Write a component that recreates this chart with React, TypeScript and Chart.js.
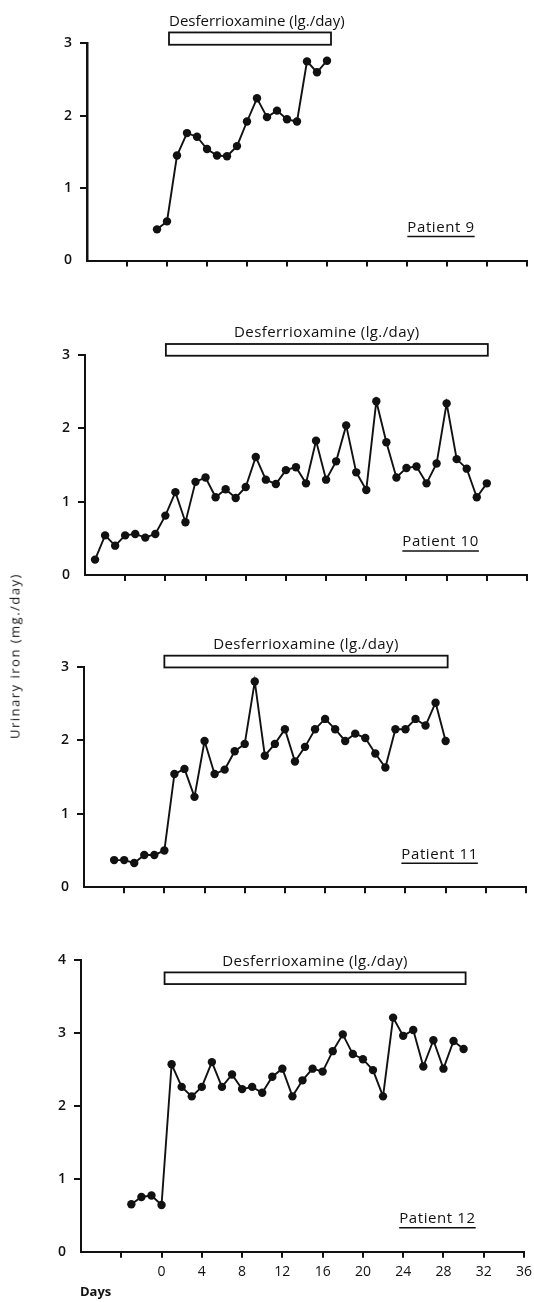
import React, { useEffect, useRef } from "react";
import { Chart, registerables } from "chart.js";

Chart.register(...registerables);

const FONT = '"Open Sans", "DejaVu Sans", sans-serif';

// ---- data (days relative to start of desferrioxamine, urinary iron mg/day) ----
const days9 = [-1, 0, 1, 2, 3, 4, 5, 6, 7, 8, 9, 10, 11, 12, 13, 14, 15, 16];
const iron9 = [0.43, 0.54, 1.45, 1.76, 1.71, 1.54, 1.45, 1.44, 1.58, 1.92, 2.24, 1.98, 2.07, 1.95, 1.92, 2.75, 2.6, 2.76];

const days10 = [-7, -6, -5, -4, -3, -2, -1, 0, 1, 2, 3, 4, 5, 6, 7, 8, 9, 10, 11, 12, 13, 14, 15, 16, 17, 18, 19, 20, 21, 22, 23, 24, 25, 26, 27, 28, 29, 30, 31, 32];
const iron10 = [0.21, 0.54, 0.4, 0.54, 0.56, 0.51, 0.56, 0.81, 1.13, 0.72, 1.27, 1.33, 1.06, 1.17, 1.05, 1.2, 1.61, 1.3, 1.24, 1.43, 1.47, 1.25, 1.83, 1.3, 1.55, 2.04, 1.4, 1.16, 2.37, 1.81, 1.33, 1.46, 1.48, 1.25, 1.52, 2.34, 1.58, 1.45, 1.06, 1.25];

const days11 = [-5, -4, -3, -2, -1, 0, 1, 2, 3, 4, 5, 6, 7, 8, 9, 10, 11, 12, 13, 14, 15, 16, 17, 18, 19, 20, 21, 22, 23, 24, 25, 26, 27, 28];
const iron11 = [0.37, 0.37, 0.33, 0.44, 0.44, 0.5, 1.54, 1.61, 1.23, 1.99, 1.54, 1.6, 1.85, 1.95, 2.8, 1.79, 1.95, 2.15, 1.71, 1.91, 2.15, 2.29, 2.15, 1.99, 2.09, 2.03, 1.82, 1.63, 2.15, 2.15, 2.29, 2.2, 2.51, 1.99];

const days12 = [-3, -2, -1, 0, 1, 2, 3, 4, 5, 6, 7, 8, 9, 10, 11, 12, 13, 14, 15, 16, 17, 18, 19, 20, 21, 22, 23, 24, 25, 26, 27, 28, 29, 30];
const iron12 = [0.65, 0.75, 0.77, 0.64, 2.57, 2.26, 2.13, 2.26, 2.6, 2.26, 2.43, 2.23, 2.26, 2.18, 2.4, 2.51, 2.13, 2.35, 2.51, 2.47, 2.75, 2.98, 2.71, 2.64, 2.49, 2.13, 3.21, 2.96, 3.04, 2.54, 2.9, 2.51, 2.89, 2.78];

const allDays = [days9, days10, days11, days12];
const allIron = [iron9, iron10, iron11, iron12];

const patientNames = ["Patient 9", "Patient 10", "Patient 11", "Patient 12"];
const drugLabel = "Desferrioxamine (lg./day)";
const treatStart = [0.2, 0.05, 0, 0.3];
const treatEnd = [16.4, 32.1, 28.2, 30.2];
const treatLow = [2.98, 2.99, 2.99, 3.67];
const treatHigh = [3.15, 3.15, 3.15, 3.83];
const yMaxes = [3, 3, 3, 4];

const xTicks = [-8, -4, 0, 4, 8, 12, 16, 20, 24, 28, 32, 36];
const xTickLabels = ["", "", "0", "4", "8", "12", "16", "20", "24", "28", "32", "36"];
const yTickLabels = ["0", "1", "2", "3", "4"];
const xAxisName = "Days";
const yAxisName = "Urinary iron (mg./day)";

// ---- layout (pixels) ----
const FRAMES = [
  { top: 0, height: 300, left: 87, right: 527, areaTop: 43.3, areaBottom: 260.5, showX: false },
  { top: 300, height: 310, left: 85, right: 527, areaTop: 55, areaBottom: 275, showX: false },
  { top: 610, height: 310, left: 84, right: 526, areaTop: 56.7, areaBottom: 277.3, showX: false },
  { top: 920, height: 382, left: 81, right: 524, areaTop: 40, areaBottom: 331.7, showX: true },
];
const W = 534;
const INK = "#111";

function makeAnnotPlugin(i: number) {
  return {
    id: "annot" + i,
    afterDraw(chart: any) {
      const { ctx, chartArea, scales } = chart;
      const xs = scales.x;
      const ys = scales.y;
      ctx.save();
      // treatment bar
      const x1 = xs.getPixelForValue(treatStart[i]);
      const x2 = xs.getPixelForValue(treatEnd[i]);
      const yT = ys.getPixelForValue(treatHigh[i]);
      const yB = ys.getPixelForValue(treatLow[i]);
      ctx.fillStyle = "#fff";
      ctx.fillRect(x1, yT, x2 - x1, yB - yT);
      ctx.lineWidth = 1.8;
      ctx.strokeStyle = INK;
      ctx.strokeRect(x1, yT, x2 - x1, yB - yT);
      // treatment label
      ctx.fillStyle = INK;
      ctx.font = `500 15px ${FONT}`;
      ctx.textBaseline = "middle";
      (ctx as any).letterSpacing = i === 0 ? "0px" : "0.4px";
      if (i === 0) {
        ctx.textAlign = "left";
        ctx.fillText(drugLabel, x1, yT - 11);
      } else {
        ctx.textAlign = "center";
        ctx.fillText(drugLabel, (x1 + x2) / 2, yT - 11);
      }
      // patient label with underline
      ctx.font = `500 15px ${FONT}`;
      (ctx as any).letterSpacing = "0.6px";
      ctx.textAlign = "center";
      const px = xs.getPixelForValue(27.4);
      const py = chartArea.bottom - 33;
      ctx.fillText(patientNames[i], px, py);
      const w = ctx.measureText(patientNames[i]).width;
      ctx.lineWidth = 1.6;
      ctx.beginPath();
      ctx.moveTo(px - w / 2, py + 9);
      ctx.lineTo(px + w / 2, py + 9);
      ctx.stroke();
      if (i === 3) {
        ctx.font = `bold 13px ${FONT}`;
        (ctx as any).letterSpacing = "0px";
        ctx.textAlign = "left";
        ctx.fillText(xAxisName, chartArea.left - 1, chartArea.bottom + 41);
      }
      ctx.restore();
    },
  };
}

function Panel({ i }: { i: number }) {
  const ref = useRef<HTMLCanvasElement>(null);
  const f = FRAMES[i];
  useEffect(() => {
    if (!ref.current) return;
    const data = allDays[i].map((d, k) => ({ x: d, y: allIron[i][k] }));
    const chart = new Chart(ref.current, {
      type: "line",
      data: {
        datasets: [
          {
            data,
            borderColor: INK,
            borderWidth: 1.9,
            pointRadius: 4.2,
            pointBackgroundColor: INK,
            pointBorderWidth: 0,
            tension: 0,
            clip: false as any,
          },
        ],
      },
      options: {
        responsive: false,
        animation: false,
        events: [],
        layout: { padding: { top: f.areaTop, right: W - f.right, bottom: 0, left: 0 } },
        plugins: { legend: { display: false }, tooltip: { enabled: false }, title: { display: false } },
        scales: {
          x: {
            type: "linear",
            min: -8,
            max: 36,
            afterBuildTicks: (s: any) => {
              s.ticks = xTicks.map((v) => ({ value: v }));
            },
            afterFit: (s: any) => {
              s.height = f.height - f.areaBottom;
              s.paddingLeft = 0;
              s.paddingRight = 0;
            },
            ticks: {
              display: f.showX,
              autoSkip: false,
              maxRotation: 0,
              padding: 6,
              color: INK,
              font: { family: FONT, size: 14, weight: "500" },
              callback: (v: any) => {
                const k = xTicks.indexOf(Number(v));
                return k >= 0 ? xTickLabels[k] : "";
              },
            },
            grid: {
              drawOnChartArea: false,
              drawTicks: true,
              tickLength: 6,
              lineWidth: 2,
              tickColor: (c: any) => (c.tick && c.tick.value === -8 ? "rgba(0,0,0,0)" : INK),
            },
            border: { display: true, color: INK, width: 2 },
          },
          y: {
            type: "linear",
            min: 0,
            max: yMaxes[i],
            afterBuildTicks: (s: any) => {
              const t = [];
              for (let v = 0; v <= yMaxes[i]; v++) t.push({ value: v });
              s.ticks = t;
            },
            afterFit: (s: any) => {
              s.width = f.left;
            },
            ticks: {
              padding: 8,
              color: INK,
              font: { family: FONT, size: 14, weight: "600" },
              callback: (v: any) => yTickLabels[Number(v)] ?? "",
            },
            grid: {
              drawOnChartArea: false,
              drawTicks: true,
              tickLength: 7,
              lineWidth: 2,
              tickColor: (c: any) => (c.tick && c.tick.value === 0 ? "rgba(0,0,0,0)" : INK),
            },
            border: { display: true, color: INK, width: i === 0 ? 2.5 : 2 },
          },
        },
      },
      plugins: [makeAnnotPlugin(i)],
    } as any);
    return () => chart.destroy();
  }, []);
  return (
    <canvas
      ref={ref}
      width={W}
      height={f.height}
      style={{ position: "absolute", left: 0, top: f.top, width: W, height: f.height }}
    />
  );
}

export default function App() {
  return (
    <div
      style={{
        position: "absolute",
        left: 0,
        top: 0,
        width: W,
        height: 1302,
        background: "#fff",
        overflow: "hidden",
      }}
    >
      {[0, 1, 2, 3].map((i) => (
        <Panel key={i} i={i} />
      ))}
      <div
        style={{
          position: "absolute",
          left: 15,
          top: 656,
          transform: "translate(-50%, -50%) rotate(-90deg)",
          whiteSpace: "nowrap",
          fontFamily: FONT,
          fontWeight: 500,
          fontSize: 13,
          letterSpacing: "1.5px",
          color: INK,
          lineHeight: 1,
        }}
      >
        {yAxisName}
      </div>
    </div>
  );
}
